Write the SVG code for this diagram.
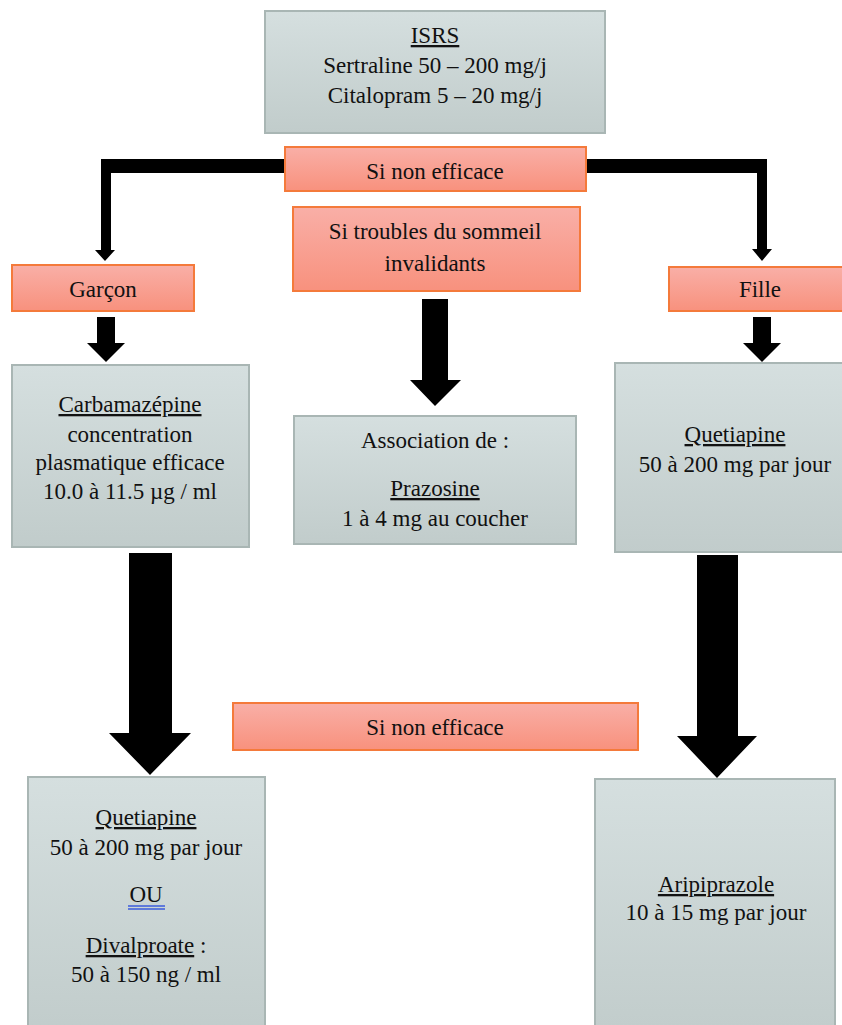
<svg xmlns="http://www.w3.org/2000/svg" width="842" height="1025" viewBox="0 0 842 1025">
<defs>
<linearGradient id="gGray" x1="0" y1="0" x2="0" y2="1">
<stop offset="0" stop-color="#d5dfdf"/>
<stop offset="1" stop-color="#c1cccb"/>
</linearGradient>
<linearGradient id="gSalmon" x1="0" y1="0" x2="0" y2="1">
<stop offset="0" stop-color="#f9afa7"/>
<stop offset="1" stop-color="#f8917d"/>
</linearGradient>
<style>
.gray{fill:url(#gGray);stroke:#a9b6b4;stroke-width:2}
.sal{fill:url(#gSalmon);stroke:#f47a3b;stroke-width:2}
text{font-family:"Liberation Serif","Times New Roman",serif;font-size:23px;fill:#111;text-anchor:middle}
.u{text-decoration:underline}
.arr{fill:#000}
.ou{stroke:#3b5bdb;stroke-width:1.3}
</style>
</defs>
<rect width="842" height="1025" fill="#fff"/>
<g id="connectors">
<polygon class="arr" points="285,159 101,159 101,250 95,250 105,261 115,250 111,250 111,173 285,173"/>
<polygon class="arr" points="586,159 767,159 767,249 772,249 762,261 752,249 757,249 757,173 586,173"/>
<polygon class="arr" points="97,317 115,317 115,343 125,343 106,362 87,343 97,343"/>
<polygon class="arr" points="753,317 771,317 771,343 781,343 762,362 743,343 753,343"/>
<polygon class="arr" points="422,299 448,299 448,380 461,380 435,406 410,380 422,380"/>
<polygon class="arr" points="129,553 172,553 172,733 191,733 150,775 109,733 129,733"/>
<polygon class="arr" points="697,555 738,555 738,736 757,736 717,778 677,736 697,736"/>
</g>
<g id="n-isrs">
<rect class="gray" x="265" y="11" width="340" height="122"/>
<text x="435" y="43"><tspan class="u">ISRS</tspan></text>
<text x="435" y="73">Sertraline 50 – 200 mg/j</text>
<text x="435" y="103">Citalopram 5 – 20 mg/j</text>
</g>
<g id="n-sinon1">
<rect class="sal" x="285" y="147" width="301" height="44"/>
<text x="435" y="179">Si non efficace</text>
</g>
<g id="n-sommeil">
<rect class="sal" x="293" y="207" width="287" height="84"/>
<text x="435" y="239">Si troubles du sommeil</text>
<text x="435" y="271">invalidants</text>
</g>
<g id="n-garcon">
<rect class="sal" x="12" y="265" width="182" height="46"/>
<text x="103" y="297">Garçon</text>
</g>
<g id="n-fille">
<rect class="sal" x="669" y="267" width="180" height="44"/>
<text x="760" y="297">Fille</text>
</g>
<g id="n-carba">
<rect class="gray" x="12" y="365" width="237" height="182"/>
<text x="130" y="412"><tspan class="u">Carbamazépine</tspan></text>
<text x="130" y="442">concentration</text>
<text x="130" y="470">plasmatique efficace</text>
<text x="130" y="499">10.0 à 11.5 µg / ml</text>
</g>
<g id="n-assoc">
<rect class="gray" x="294" y="416" width="282" height="128"/>
<text x="435" y="448">Association de :</text>
<text x="435" y="496"><tspan class="u">Prazosine</tspan></text>
<text x="435" y="526">1 à 4 mg au coucher</text>
</g>
<g id="n-quet-r">
<rect class="gray" x="615" y="363" width="235" height="189"/>
<text x="735" y="442"><tspan class="u">Quetiapine</tspan></text>
<text x="735" y="472">50 à 200 mg par jour</text>
</g>
<g id="n-sinon2">
<rect class="sal" x="233" y="703" width="405" height="47"/>
<text x="435" y="735">Si non efficace</text>
</g>
<g id="n-quet-l">
<rect class="gray" x="28" y="777" width="237" height="260"/>
<text x="146" y="825"><tspan class="u">Quetiapine</tspan></text>
<text x="146" y="855">50 à 200 mg par jour</text>
<text x="146" y="902">OU</text>
<line class="ou" x1="128" y1="906" x2="165" y2="906"/>
<line class="ou" x1="128" y1="909" x2="165" y2="909"/>
<text x="146" y="953"><tspan class="u">Divalproate</tspan> :</text>
<text x="146" y="982">50 à 150 ng / ml</text>
</g>
<g id="n-aripi">
<rect class="gray" x="595" y="779" width="240" height="260"/>
<text x="716" y="892"><tspan class="u">Aripiprazole</tspan></text>
<text x="716" y="920">10 à 15 mg par jour</text>
</g>
</svg>
